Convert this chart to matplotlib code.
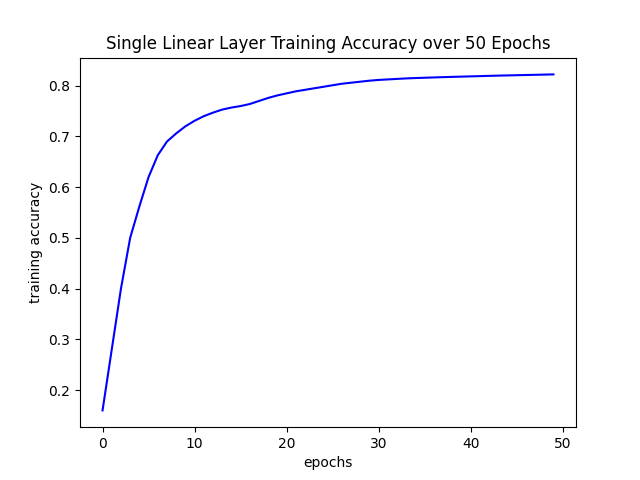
import matplotlib
matplotlib.use("Agg")
import matplotlib.pyplot as plt

epochs = list(range(50))
accuracy = [0.160, 0.280, 0.400, 0.500, 0.562, 0.620, 0.663, 0.690, 0.706, 0.720,
            0.731, 0.740, 0.747, 0.753, 0.757, 0.760, 0.764, 0.770, 0.776, 0.781,
            0.785, 0.789, 0.792, 0.795, 0.798, 0.801, 0.804, 0.806, 0.808, 0.810,
            0.8115, 0.8125, 0.8135, 0.8145, 0.8152, 0.8158, 0.8164, 0.8170, 0.8175, 0.8180,
            0.8185, 0.8190, 0.8195, 0.8200, 0.8204, 0.8208, 0.8212, 0.8216, 0.8220, 0.8224]

plt.figure(figsize=(6.4, 4.8), dpi=100)
plt.plot(epochs, accuracy, color="blue")
plt.xlabel("epochs")
plt.ylabel("training accuracy")
plt.title("Single Linear Layer Training Accuracy over 50 Epochs")
plt.savefig("out.png")
